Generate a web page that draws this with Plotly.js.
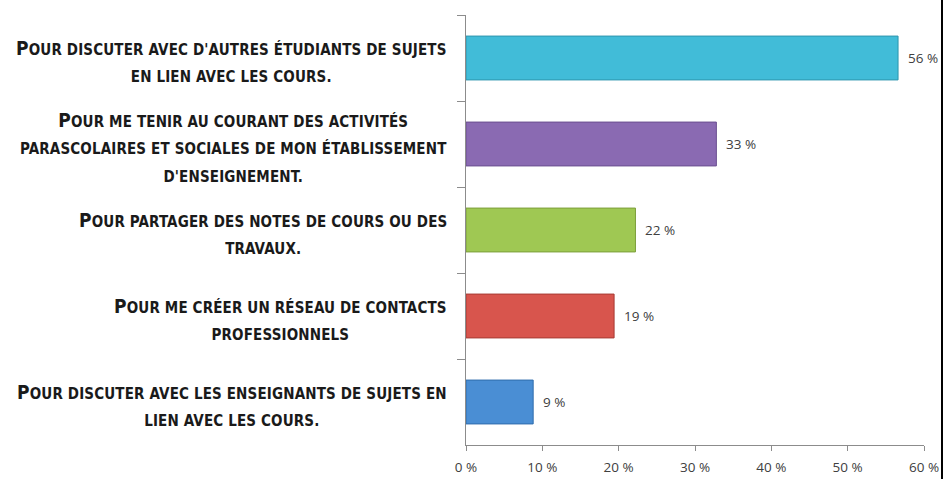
<!DOCTYPE html>
<html>
<head>
<meta charset="utf-8">
<script src="https://cdn.plot.ly/plotly-3.0.1.min.js"></script>
<style>html,body{margin:0;padding:0;background:#fff;}#chart{width:943px;height:479px;}</style>
</head>
<body>
<div id="chart"></div>
<script>
// Categories, top to bottom (line breaks as in the reference)
const categories = [
  "Pour discuter avec d'autres étudiants de sujets\nen lien avec les cours.",
  "Pour me tenir au courant des activités\nparascolaires et sociales de mon établissement\nd'enseignement.",
  "Pour partager des notes de cours ou des\ntravaux.",
  "Pour me créer un réseau de contacts\nprofessionnels",
  "Pour discuter avec les enseignants de sujets en\nlien avec les cours."
];
const values = [56.6, 32.8, 22.2, 19.4, 8.8];
const valueLabels = ["56 %", "33 %", "22 %", "19 %", "9 %"];
const barColors = ["#41BCD8", "#8A6AB2", "#9FC853", "#D8554D", "#4A8ED4"];
const barEdges = ["#2E95AE", "#6A4E90", "#7C9E3A", "#A73B34", "#2F6CAC"];
const xTickVals = [0, 10, 20, 30, 40, 50, 60];
const xTickText = ["0 %", "10 %", "20 %", "30 %", "40 %", "50 %", "60 %"];

const BIG = 19, SMALL = 15, SPACING = 0.15;
function smallCaps(label) {
  const lines = label.split("\n");
  const st = function (sz) { return 'font-size:' + sz + 'px;letter-spacing:' + SPACING + 'px'; };
  return lines.map(function (ln, i) {
    const up = ln.toUpperCase();
    if (i === 0) {
      return '<span style="' + st(BIG) + '">' + up.charAt(0) + '</span>' +
             '<span style="' + st(SMALL) + '">' + up.slice(1) + '</span>';
    }
    return '<span style="' + st(SMALL) + '">' + up + '</span>';
  }).join("<br>");
}

const trace = {
  type: "bar",
  orientation: "h",
  y: categories,
  x: values,
  marker: { color: barColors, line: { color: barEdges, width: 1 } },
  width: 0.51,
  hoverinfo: "skip"
};

const annotations = [];
categories.forEach(function (c, i) {
  annotations.push({
    xref: "paper", yref: "y", x: -0.037, y: c,
    xanchor: "right", yanchor: "middle", align: "center",
    text: smallCaps(c), showarrow: false, yshift: -3,
    font: { family: "Liberation Sans Narrow, DejaVu Sans Condensed, Open Sans", size: 21, color: "#1a1a1a", weight: "bold" }
  });
  annotations.push({
    xref: "x", yref: "y", x: values[i], y: c,
    xanchor: "left", yanchor: "middle", xshift: 8,
    text: valueLabels[i], showarrow: false,
    font: { family: "Open Sans", size: 13.5, color: "#404040" }
  });
});

const layout = {
  width: 943, height: 479,
  margin: { l: 466, r: 19, t: 15, b: 34, pad: 0 },
  paper_bgcolor: "#fff", plot_bgcolor: "#fff",
  showlegend: false,
  bargap: 0.49,
  xaxis: {
    range: [0, 60], tickvals: xTickVals, ticktext: xTickText,
    showgrid: false, zeroline: false,
    showline: true, linecolor: "#8c8c8c", linewidth: 1,
    ticks: "outside", ticklen: 5, tickcolor: "#8c8c8c",
    ticklabelstandoff: 5,
    tickfont: { family: "Open Sans", size: 13.5, color: "#404040" }
  },
  yaxis: {
    autorange: "reversed", showticklabels: false,
    showgrid: false, zeroline: false,
    showline: true, linecolor: "#8c8c8c", linewidth: 1,
    ticks: "outside", ticklen: 8, tickcolor: "#8c8c8c", tickson: "boundaries"
  },
  shapes: [{
    type: "line", xref: "paper", yref: "paper",
    x0: 1.0393, x1: 1.0393, y0: -0.1, y1: 1.1,
    line: { color: "#000000", width: 2 }
  }],
  annotations: annotations
};

Plotly.newPlot("chart", [trace], layout, { displayModeBar: false, staticPlot: true });
</script>
</body>
</html>
